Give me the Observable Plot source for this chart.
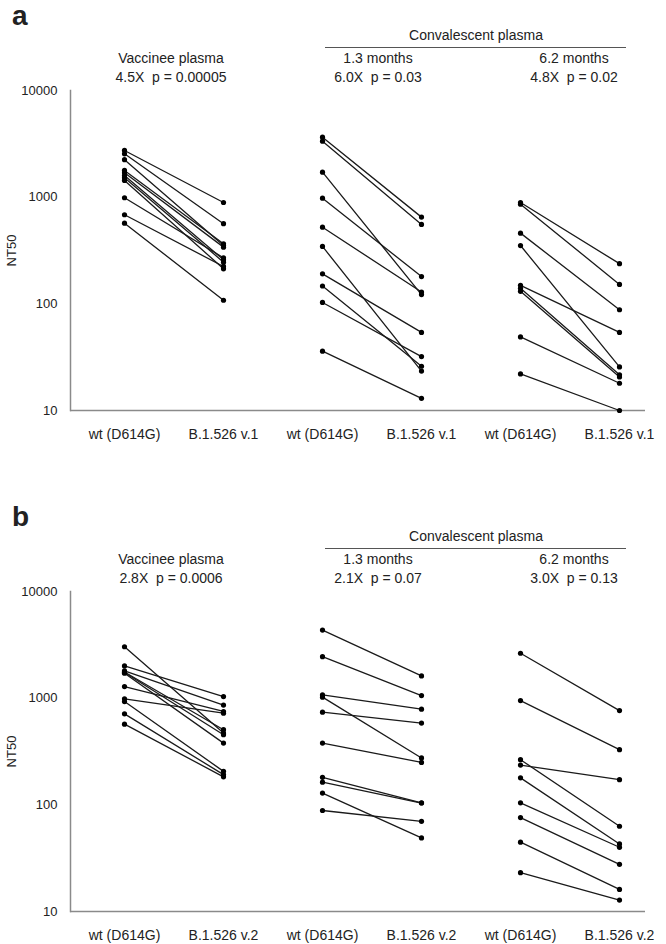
<!DOCTYPE html>
<html><head><meta charset="utf-8">
<script src="https://cdn.jsdelivr.net/npm/d3@7"></script>
<script src="https://cdn.jsdelivr.net/npm/@observablehq/plot@0.6"></script>
<style>
body{margin:0;background:#fff;font-family:"Liberation Sans",Arial,sans-serif;color:#222}
#root{position:relative;width:666px;height:944px;overflow:hidden;background:#fff}
.panel{position:absolute;left:0;width:666px;height:445px}
.panel svg{position:absolute;left:0;top:0}
.lbl{position:absolute;font-size:14px;white-space:pre;transform:translate(-50%,-50%);line-height:1}
.letter{position:absolute;left:12px;font-weight:bold;font-size:28px;line-height:28px}
.rule{position:absolute;border-top:1px solid #555;height:0}
</style></head><body><div id="root"></div><script>
// categories (x)
const catKeys = ["wt1","var1","wt2","var2","wt3","var3"];
const xLabelsA = ["wt (D614G)","B.1.526 v.1","wt (D614G)","B.1.526 v.1","wt (D614G)","B.1.526 v.1"];
const xLabelsB = ["wt (D614G)","B.1.526 v.2","wt (D614G)","B.1.526 v.2","wt (D614G)","B.1.526 v.2"];
const yTicks = [10,100,1000,10000];
const groupTitles = ["Vaccinee plasma","1.3 months","6.2 months"];
const statsA = ["4.5X  p = 0.00005","6.0X  p = 0.03","4.8X  p = 0.02"];
const statsB = ["2.8X  p = 0.0006","2.1X  p = 0.07","3.0X  p = 0.13"];
const convTitle = "Convalescent plasma";

// Panel a values (NT50), paired by index
const aVacWt   = [2740, 2550, 2245, 1780, 1693, 1597, 1520, 1435, 987, 684, 570];
const aVacVar  = [891, 564, 352, 366, 340, 259, 246, 213, 270, 224, 108];
const aC13Wt   = [3648, 3349, 1714, 979, 523, 345, 191, 147, 103, 36];
const aC13Var  = [650, 555, 122, 180, 129, 23.4, 54, 26, 32, 13];
const aC62Wt   = [890, 860, 460, 352, 149, 140, 131, 49, 22];
const aC62Var  = [238, 152, 88, 25.6, 54, 21.6, 20.6, 18, 10];

// Panel b values
const bVacWt   = [3034, 2006, 1800, 1760, 1740, 1715, 1283, 985, 930, 713, 571];
const bVacVar  = [471, 1035, 861, 506, 454, 379, 750, 724, 206, 192, 183];
const bC13Wt   = [4345, 2448, 1073, 1022, 739, 379, 181, 163, 129, 88.5];
const bC13Var  = [1616, 1058, 789, 275, 584, 250, 104.5, 104, 49, 70];
const bC62Wt   = [2636, 950, 265, 236, 179, 104.5, 76, 44.7, 23.1];
const bC62Var  = [765, 329, 63, 172, 43, 40, 27.7, 16.1, 12.8];

function rowsFor(groups) {
  const rows = [];
  groups.forEach(([wt, vr, g], gi) => {
    wt.forEach((v, i) => {
      rows.push({pair: g + i, cat: catKeys[gi*2], value: v});
      rows.push({pair: g + i, cat: catKeys[gi*2+1], value: vr[i]});
    });
  });
  return rows;
}

function makePlot(rows, labels, h) {
  return Plot.plot({
    width: 666, height: h,
    marginLeft: 70, marginRight: 21, marginTop: 90, marginBottom: h - 410,
    style: {fontFamily: "'Liberation Sans', Arial, sans-serif", color: "#222", background: "#fff", overflow: "visible"},
    x: {type: "point", domain: catKeys, range: [124, 619], padding: 0},
    y: {type: "log", domain: [10, 10000]},
    marks: [
      Plot.frame({anchor: "left", stroke: "#8a8a8a", strokeWidth: 1.5}),
      Plot.ruleY([10], {stroke: "#8a8a8a", strokeWidth: 1.5}),
      Plot.axisX({tickSize: 0, tickPadding: 19, fontSize: 14, label: null,
        tickFormat: d => labels[catKeys.indexOf(d)]}),
      Plot.axisY({ticks: yTicks, tickSize: 0, tickPadding: 13, fontSize: 13,
        tickFormat: d => String(d), label: "NT50", labelArrow: false, labelAnchor: "center", labelOffset: 64}),
      Plot.line(rows, {x: "cat", y: "value", z: "pair", stroke: "#1a1a1a", strokeWidth: 1.3}),
      Plot.dot(rows, {x: "cat", y: "value", r: 2.6, fill: "#000", stroke: "none"})
    ]
  });
}

const root = document.getElementById("root");
function addPanel(top, letter, rows, labels, stats, h) {
  const p = document.createElement("div");
  p.className = "panel"; p.style.top = top + "px"; p.style.height = h + "px";
  p.appendChild(makePlot(rows, labels, h));
  const L = document.createElement("div");
  L.className = "letter"; L.style.top = "2px"; L.textContent = letter;
  p.appendChild(L);
  const cx = [171, 378, 574];
  const lab = (text, x, y) => {
    const d = document.createElement("div");
    d.className = "lbl"; d.style.left = x + "px"; d.style.top = y + "px"; d.textContent = text;
    p.appendChild(d);
  };
  lab(convTitle, 476, 35);
  const r = document.createElement("div");
  r.className = "rule"; r.style.left = "325px"; r.style.width = "301px"; r.style.top = "47px";
  p.appendChild(r);
  groupTitles.forEach((t, i) => lab(t, cx[i], 58));
  stats.forEach((t, i) => lab(t, cx[i], 77));
  root.appendChild(p);
}

addPanel(0, "a", rowsFor([[aVacWt, aVacVar, "v"], [aC13Wt, aC13Var, "c"], [aC62Wt, aC62Var, "s"]]), xLabelsA, statsA, 445);
addPanel(501, "b", rowsFor([[bVacWt, bVacVar, "v"], [bC13Wt, bC13Var, "c"], [bC62Wt, bC62Var, "s"]]), xLabelsB, statsB, 443);
</script></body></html>
